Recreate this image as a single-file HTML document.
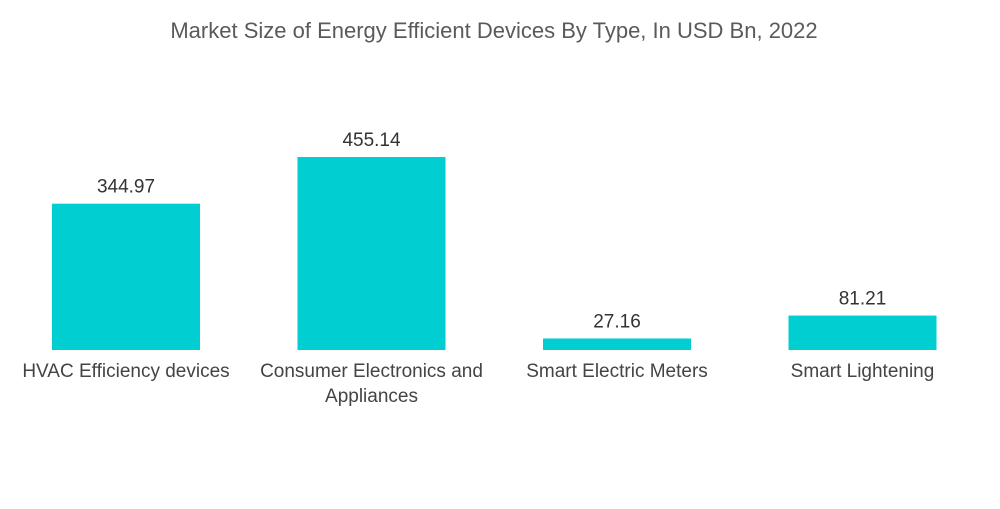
<!DOCTYPE html>
<html><head><meta charset="utf-8"><style>
body{margin:0;background:#fff;}
svg text{font-family:"Liberation Sans",sans-serif;}
</style></head><body>
<svg id="c" width="1000" height="504">
<text x="494" y="38" text-anchor="middle" font-size="22" fill="#5a5a5a">Market Size of Energy Efficient Devices By Type, In USD Bn, 2022</text>
</svg>
<script>
const categories=[["HVAC Efficiency devices"],["Consumer Electronics and","Appliances"],["Smart Electric Meters"],["Smart Lightening"]];
const values=[344.97,455.14,27.16,81.21];
const valueLabels=["344.97","455.14","27.16","81.21"];
const svg=document.getElementById('c');
const NS='http://www.w3.org/2000/svg';
const x0=3.25,band=245.5,barW=148,base=350,scale=193/455.14;
const xc=i=>x0+band*(i+0.5);
const y=v=>base-v*scale;
values.forEach((v,i)=>{
 const r=document.createElementNS(NS,'rect');
 r.setAttribute('x',xc(i)-barW/2);r.setAttribute('y',y(v));
 r.setAttribute('width',barW);r.setAttribute('height',base-y(v));
 r.setAttribute('fill','#00CED1');
 
 
 svg.appendChild(r);
 const t=document.createElementNS(NS,'text');
 t.setAttribute('x',xc(i));t.setAttribute('y',y(v)-11);
 t.setAttribute('text-anchor','middle');t.setAttribute('font-size','19');t.setAttribute('fill','#333');
 t.textContent=valueLabels[i];
 
 
 svg.appendChild(t);
 categories[i].forEach((line,j)=>{
  const c=document.createElementNS(NS,'text');
  c.setAttribute('x',xc(i));c.setAttribute('y',377+j*25);
  c.setAttribute('text-anchor','middle');c.setAttribute('font-size','19');c.setAttribute('fill','#444');
  c.textContent=line;
  
  
  svg.appendChild(c);
 });
});
</script>
</body></html>
